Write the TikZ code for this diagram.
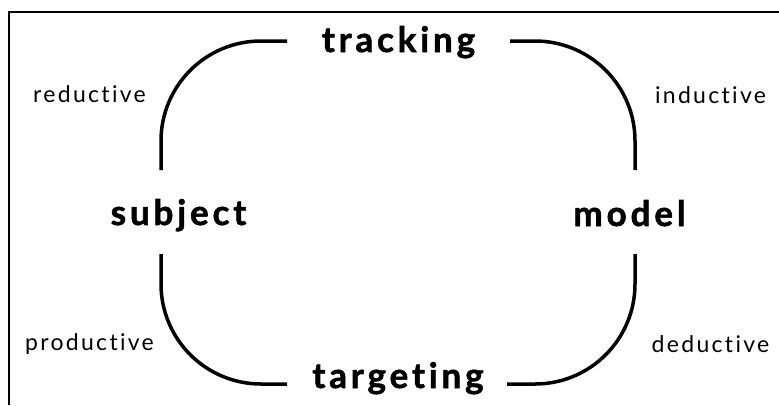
\documentclass[tikz,border=0pt]{standalone}
\usepackage{fontspec}
\setmainfont{Lato}[Ligatures=NoCommon]
\newfontfamily\bigfont{Lato}[UprightFont={* Bold}, Ligatures=NoCommon, LetterSpace=11, FakeBold=1.6]
\newfontfamily\smallfont{Lato}[Ligatures=NoCommon, LetterSpace=10]
\begin{document}
\begin{tikzpicture}[x=1pt,y=-1pt,
  big/.style={font=\bigfont\fontsize{35}{35}\selectfont, anchor=base, inner sep=0pt},
  small/.style={font=\smallfont\fontsize{23}{23}\selectfont, anchor=base, inner sep=0pt},
  loop/.style={line width=3.5pt, rounded corners=100pt},
  frame/.style={line width=2pt}]
\useasboundingbox (0,0) rectangle (779,405);
% frame
\coordinate (ftr) at (779,12);
\coordinate (ftl) at (9,12);
\coordinate (fbl) at (9,405);
\draw[frame] (ftr) -- (ftl) -- (fbl);
% main labels
\node[big] (tracking) at (398.5,52) {tracking};
\node[big] (targeting) at (398,388) {targeting};
\node[big] (subject) at (178.5,225) {subject};
\node[big] (model) at (629.5,226) {model};
% side labels
\node[small] (reductive) at (89.5,102) {reductive};
\node[small] (inductive) at (710.5,103) {inductive};
\node[small] (productive) at (89.5,350) {productive};
\node[small] (deductive) at (710.5,352) {deductive};
% curve end points
\coordinate (s1) at (161,170);
\coordinate (t1) at (287,41);
\coordinate (t2) at (510,41);
\coordinate (m1) at (635,170);
\coordinate (m2) at (635,254);
\coordinate (g2) at (507,384);
\coordinate (g1) at (287,384);
\coordinate (s2) at (161,254);
\draw[loop] (s1) |- (t1);
\draw[loop] (t2) -| (m1);
\draw[loop] (m2) |- (g2);
\draw[loop] (g1) -| (s2);
\end{tikzpicture}
\end{document}
